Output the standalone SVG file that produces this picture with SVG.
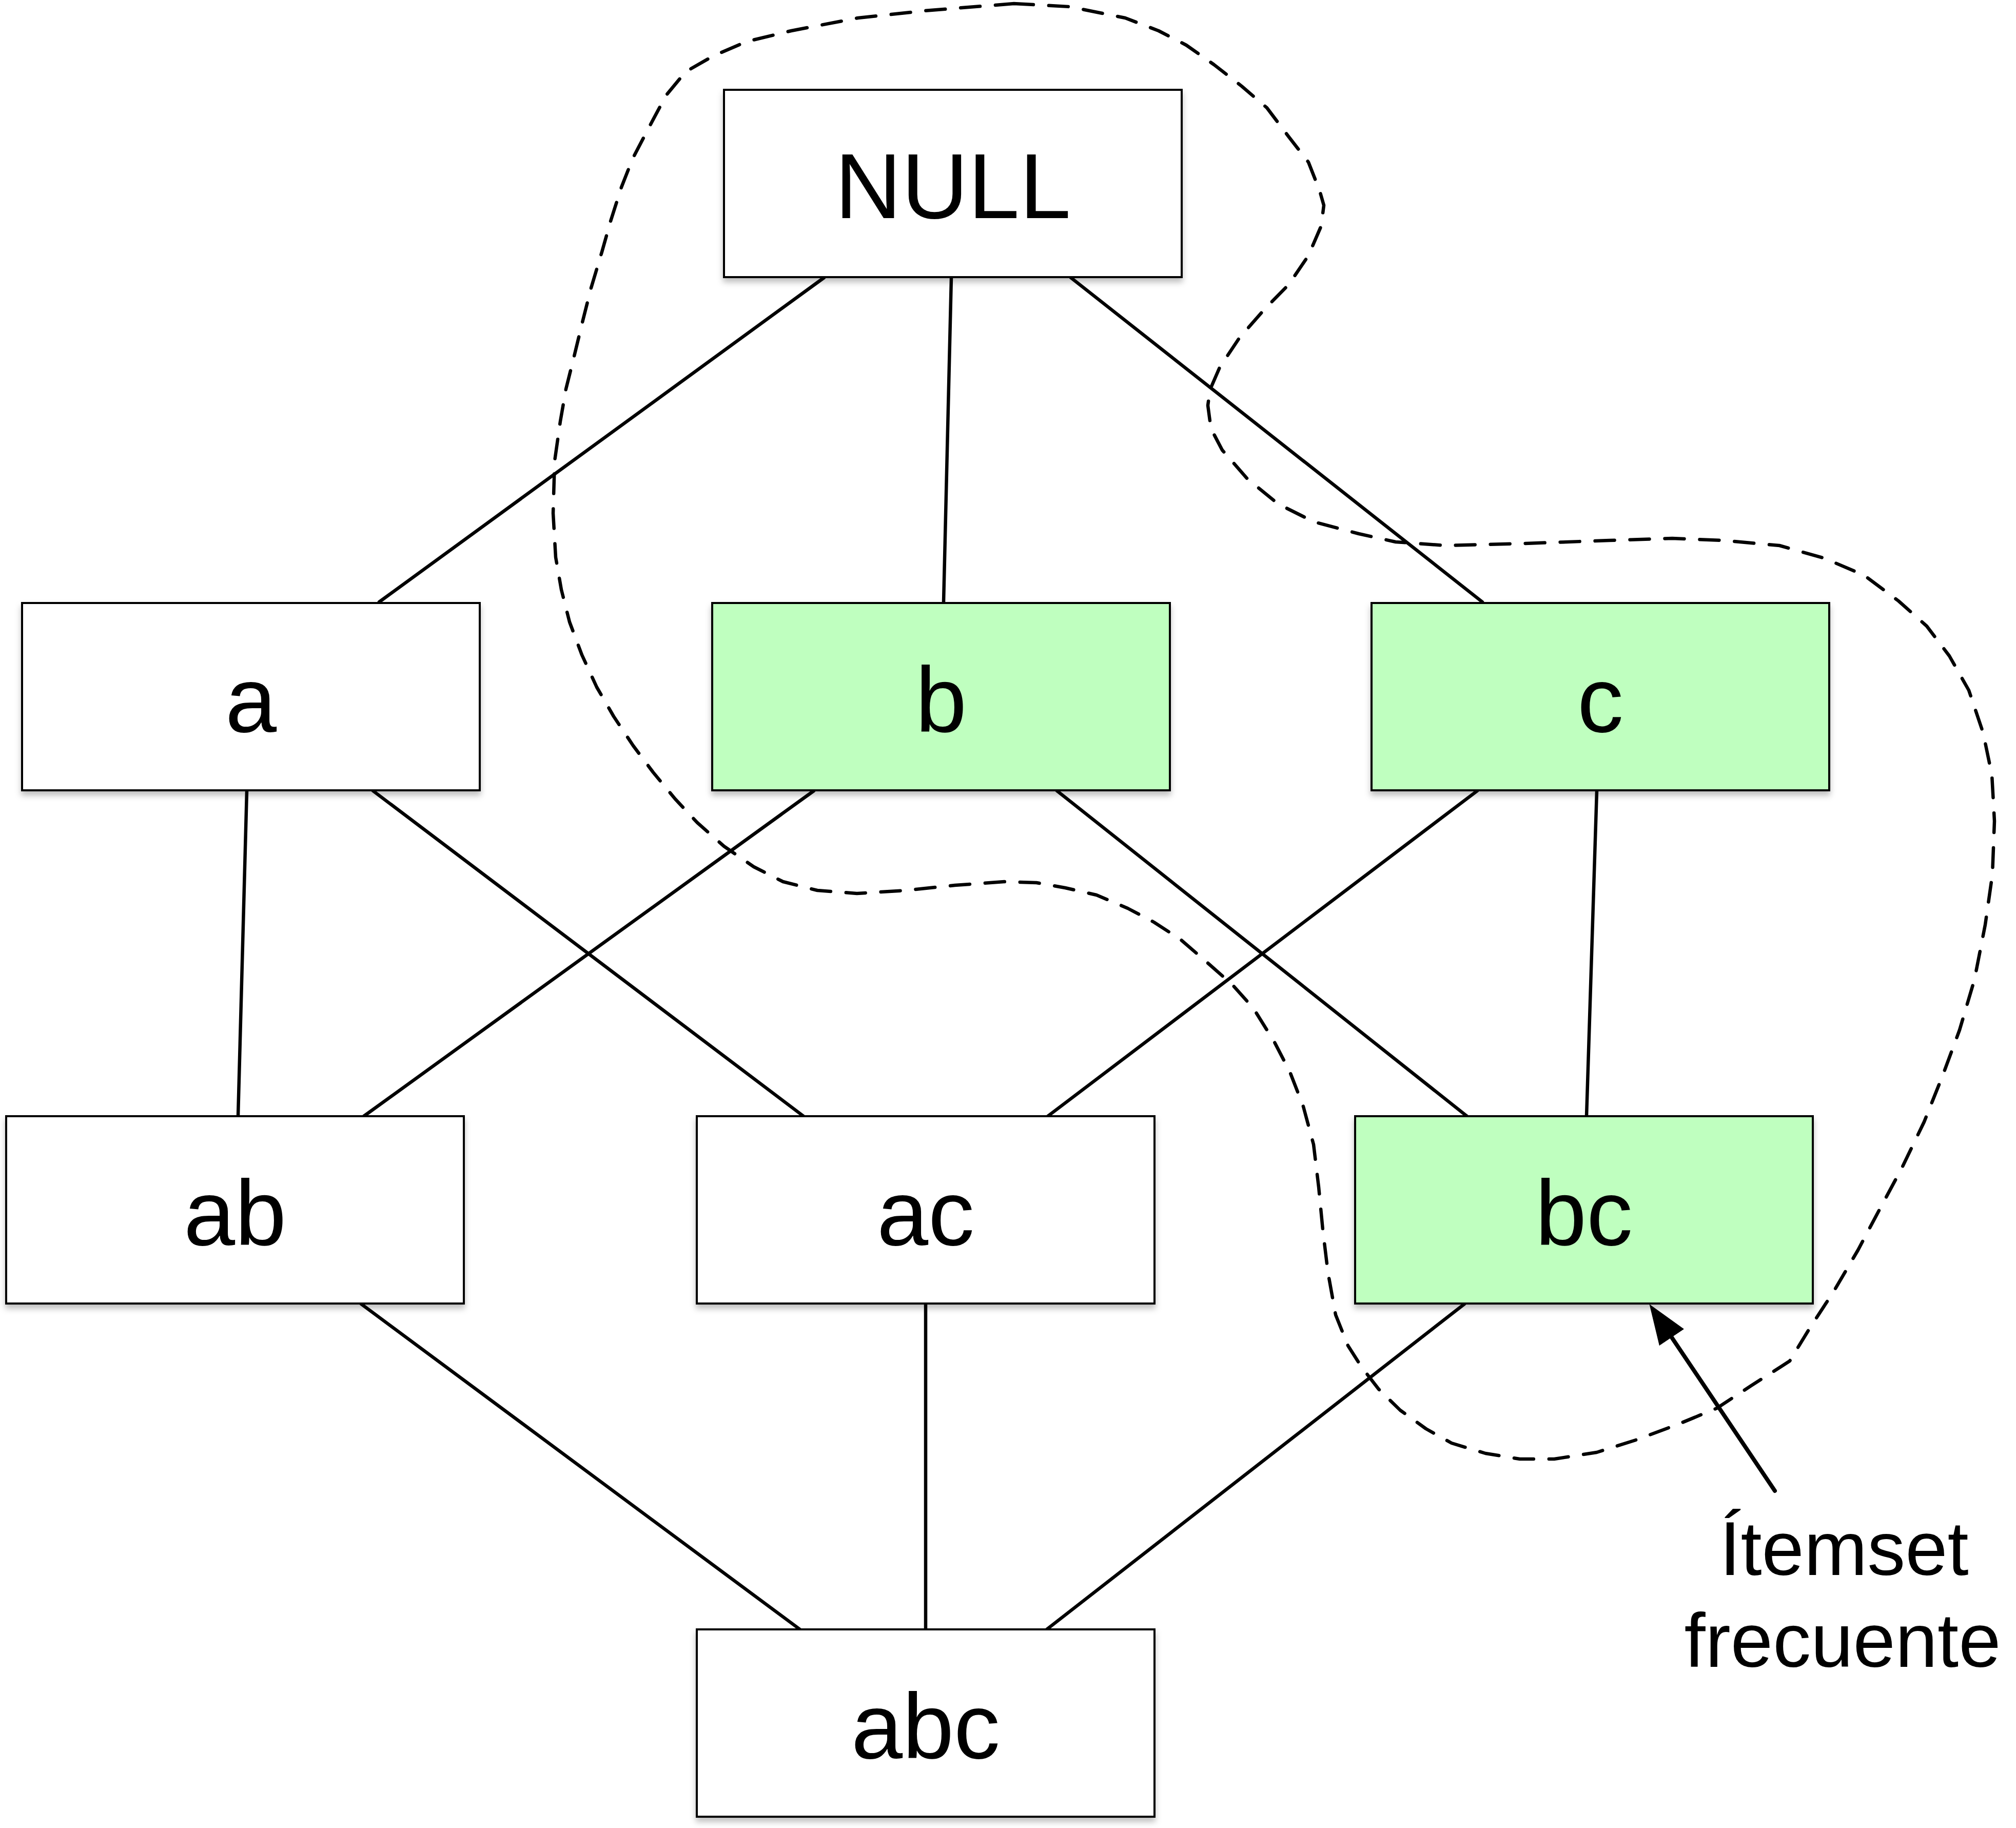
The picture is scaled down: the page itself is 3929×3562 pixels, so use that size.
<svg xmlns="http://www.w3.org/2000/svg" width="3929" height="3562" viewBox="0 0 3929 3562">
<style>
.box{stroke:#000;stroke-width:4;filter:url(#sh)}
.w{fill:#fff}
.g{fill:#bfffbf}
.lbl{font-family:"Liberation Sans",Arial,Helvetica,sans-serif;font-size:180px;fill:#000;text-anchor:middle}
.note{font-family:"Liberation Sans",Arial,Helvetica,sans-serif;font-size:148px;fill:#000;text-anchor:middle}
.edge{stroke:#000;stroke-width:6.5;stroke-linecap:round;fill:none}
.dash{stroke:#000;stroke-width:6.5;stroke-linecap:round;stroke-linejoin:round;fill:none;stroke-dasharray:38 30}
</style>
<defs>
<filter id="sh" x="-5%" y="-5%" width="110%" height="115%">
<feDropShadow dx="0" dy="8" stdDeviation="6" flood-color="#000" flood-opacity="0.25"/>
</filter>
<marker id="ah" viewBox="0 0 78 58" refX="0" refY="29" markerWidth="78" markerHeight="58" markerUnits="userSpaceOnUse" orient="auto">
<path d="M0,0 L78,29 L0,58 z" fill="#000"/>
</marker>
</defs>
<rect width="3929" height="3562" fill="#fff"/>
<g id="connectors">
<line class="edge" x1="1606" y1="541" x2="739" y2="1173"/>
<line class="edge" x1="1854" y1="541" x2="1839" y2="1173"/>
<line class="edge" x1="2087" y1="541" x2="2889" y2="1173"/>
<line class="edge" x1="481" y1="1541" x2="464" y2="2175"/>
<line class="edge" x1="727" y1="1541" x2="1566" y2="2175"/>
<line class="edge" x1="1586" y1="1541" x2="709" y2="2175"/>
<line class="edge" x1="2060" y1="1541" x2="2859" y2="2175"/>
<line class="edge" x1="2879" y1="1541" x2="2042" y2="2175"/>
<line class="edge" x1="3112" y1="1541" x2="3092" y2="2175"/>
<line class="edge" x1="704" y1="2541" x2="1559" y2="3175"/>
<line class="edge" x1="1804" y1="2541" x2="1804" y2="3175"/>
<line class="edge" x1="2854" y1="2541" x2="2040" y2="3175"/>
</g>
<g id="node-null"><rect class="box w" x="1411" y="175" width="892" height="365"/><text class="lbl" x="1857" y="425">NULL</text></g>
<g id="node-a"><rect class="box w" x="43" y="1175" width="892" height="365"/><text class="lbl" x="489" y="1426">a</text></g>
<g id="node-b"><rect class="box g" x="1388" y="1175" width="892" height="365"/><text class="lbl" x="1834" y="1426">b</text></g>
<g id="node-c"><rect class="box g" x="2673" y="1175" width="892" height="365"/><text class="lbl" x="3119" y="1426">c</text></g>
<g id="node-ab"><rect class="box w" x="12" y="2175" width="892" height="365"/><text class="lbl" x="458" y="2426">ab</text></g>
<g id="node-ac"><rect class="box w" x="1358" y="2175" width="892" height="365"/><text class="lbl" x="1804" y="2426">ac</text></g>
<g id="node-bc"><rect class="box g" x="2641" y="2175" width="892" height="365"/><text class="lbl" x="3087" y="2426">bc</text></g>
<g id="node-abc"><rect class="box w" x="1358" y="3175" width="892" height="365"/><text class="lbl" x="1804" y="3426">abc</text></g>
<g id="frequent-region">
<path class="dash" d="M1976,7 L2084,13 L2193,35 L2258,60 L2312,88 L2366,126 L2420,168 L2469,210 L2512,267 L2550,316 L2572,372 L2580,400 L2575,440 L2550,498 L2512,554 L2464,603 L2415,659 L2377,716 L2358,760 L2354,790 L2360,835 L2382,877 L2431,933 L2491,982 L2561,1017 L2648,1040 L2720,1056 L2817,1063 L2972,1059 L3137,1053 L3259,1049 L3358,1053 L3468,1063 L3556,1088 L3633,1121 L3700,1171 L3755,1220 L3799,1278 L3837,1345 L3865,1428 L3882,1510 L3887,1600 L3883,1704 L3869,1802 L3848,1909 L3819,2007 L3786,2096 L3750,2186 L3707,2275 L3664,2355 L3621,2436 L3574,2516 L3527,2588 L3488,2652 L3471,2663 L3413,2700 L3346,2744 L3271,2775 L3188,2806 L3112,2830 L3029,2843 L2962,2843 L2895,2832 L2829,2812 L2779,2784 L2729,2748 L2687,2707 L2653,2663 L2627,2622 L2603,2562 L2588,2479 L2578,2396 L2570,2313 L2560,2230 L2540,2156 L2514,2089 L2484,2031 L2443,1965 L2402,1919 L2351,1874 L2300,1830 L2249,1797 L2198,1770 L2137,1744 L2076,1730 L2020,1720 L1957,1718 L1861,1725 L1765,1735 L1670,1741 L1593,1735 L1526,1718 L1469,1689 L1411,1649 L1359,1603 L1316,1557 L1273,1505 L1234,1453 L1196,1396 L1163,1339 L1134,1276 L1110,1212 L1094,1149 L1083,1086 L1078,1000 L1081,898 L1092,821 L1103,758 L1119,694 L1136,624 L1152,561 L1173,491 L1190,431 L1211,365 L1233,309 L1266,246 L1298,186 L1336,140 L1390,109 L1455,81 L1542,60 L1672,35 L1802,21 Z"/>
</g>
<g id="annotation">
<line x1="3459" y1="2905" x2="3258" y2="2606" stroke="#000" stroke-width="8" stroke-linecap="round" marker-end="url(#ah)"/>
<text class="note" x="3594" y="3069">Ítemset</text>
<text class="note" x="3591" y="3248">frecuente</text>
</g>
</svg>
